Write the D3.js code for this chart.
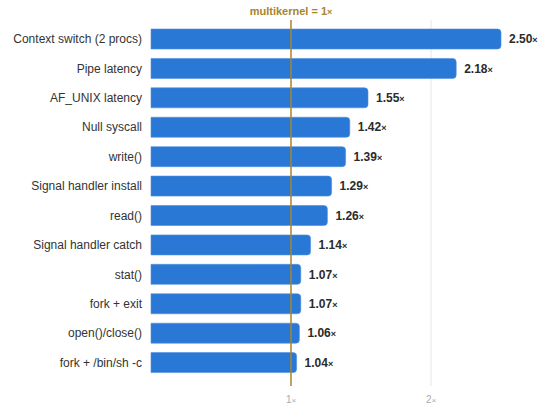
<!DOCTYPE html>
<html><head><meta charset="utf-8">
<script src="https://cdn.jsdelivr.net/npm/d3@7"></script>
<style>body{margin:0;background:#fff}svg{display:block;font-family:"Liberation Sans",Arial,sans-serif}</style>
</head><body>
<svg id="c" width="551" height="414"></svg>
<script>
const categories = ["Context switch (2 procs)","Pipe latency","AF_UNIX latency","Null syscall","write()","Signal handler install","read()","Signal handler catch","stat()","fork + exit","open()/close()","fork + /bin/sh -c"];
const values = [2.50, 2.18, 1.55, 1.42, 1.39, 1.29, 1.26, 1.14, 1.07, 1.07, 1.06, 1.04];
const tickValues = [1, 2];
const baseline = 1;
const annotation = "multikernel = 1";

(function(){
const svg = d3.select("#c");
const x = d3.scaleLinear().domain([0, 2.85]).range([151, 550]);
const y = d3.scaleBand().domain(categories).range([24.3, 377.3]).paddingInner(0.32).paddingOuter(0.16);
const gold = "#a8852b";
const yTop = 20, yBottom = 386;

svg.append("g").selectAll("line").data(tickValues.filter(t => t !== baseline)).join("line")
  .attr("x1", d => x(d)).attr("x2", d => x(d)).attr("y1", yTop).attr("y2", yBottom)
  .attr("stroke", "#e6e6e6").attr("stroke-width", 1);

function barPath(x0, x1, y0, h, r) {
  return `M${x0},${y0}H${x1 - r}Q${x1},${y0} ${x1},${y0 + r}V${y0 + h - r}Q${x1},${y0 + h} ${x1 - r},${y0 + h}H${x0}Z`;
}
const data = categories.map((c, i) => ({c, v: values[i]}));
svg.append("g").selectAll("path").data(data).join("path")
  .attr("d", d => barPath(x(0), x(d.v), y(d.c), y.bandwidth(), 3.5))
  .attr("fill", "#2a78d6").attr("stroke", "#4d8fdd").attr("stroke-width", 0.6);

svg.append("line").attr("x1", x(baseline)).attr("x2", x(baseline)).attr("y1", yTop).attr("y2", yBottom)
  .attr("stroke", gold).attr("stroke-width", 1.5);
const ann = svg.append("text").attr("x", x(baseline)).attr("y", 15).attr("text-anchor", "middle")
  .attr("font-size", 11).attr("font-weight", "bold").attr("fill", gold).text(annotation);
ann.append("tspan").attr("font-size", 9).text("×");

svg.append("g").selectAll("text").data(data).join("text")
  .attr("x", 142).attr("y", d => y(d.c) + y.bandwidth() / 2).attr("dy", "0.35em")
  .attr("text-anchor", "end").attr("font-size", 12).attr("fill", "#333").text(d => d.c);

const vl = svg.append("g").selectAll("text").data(data).join("text")
  .attr("x", d => x(d.v) + 8).attr("y", d => y(d.c) + y.bandwidth() / 2).attr("dy", "0.35em")
  .attr("font-size", 12).attr("font-weight", "bold").attr("fill", "#2b2b2b");
vl.append("tspan").text(d => d.v.toFixed(2));
vl.append("tspan").attr("font-size", 9).text("×");

const tl = svg.append("g").selectAll("text").data(tickValues).join("text")
  .attr("x", d => x(d)).attr("y", 403).attr("text-anchor", "middle")
  .attr("font-size", 10).attr("fill", "#aaa");
tl.append("tspan").text(d => d);
tl.append("tspan").attr("font-size", 8).text("×");
})();
</script>
</body></html>
